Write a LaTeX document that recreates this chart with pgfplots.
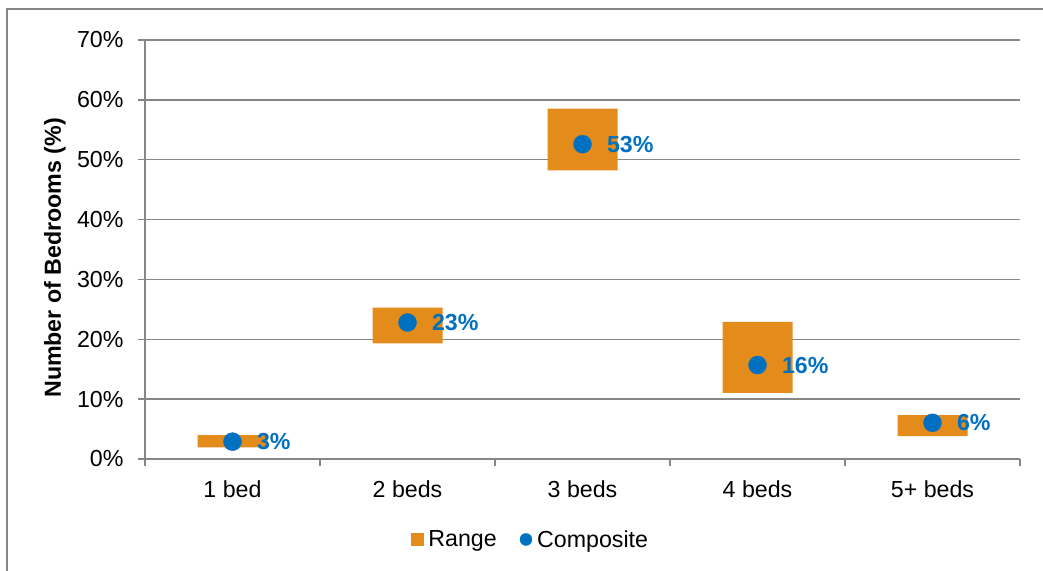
\documentclass[border=0pt]{standalone}
\usepackage{fontspec}
\setmainfont{Liberation Sans}
\usepackage{pgfplots}
\pgfplotsset{compat=1.18}
\definecolor{rangeor}{RGB}{227,139,27}
\definecolor{compblue}{RGB}{0,112,192}
\definecolor{gridgray}{RGB}{134,134,134}
\newcommand{\chartfont}{\fontsize{23.2}{27}\selectfont}
\pgfplotsset{
  common/.style={
    at={(145pt,-459pt)}, anchor=south west,
    scale only axis, width=875pt, height=419pt,
    xmin=-0.5, xmax=4.5, ymin=0, ymax=70,
    clip=false,
  }
}
\begin{document}
\begin{tikzpicture}
\path[use as bounding box] (0pt,0pt) rectangle (1043pt,-570pt);
\draw[gridgray, line width=1.5pt] (7pt,-575pt) -- (7pt,-9pt) -- (1050pt,-9pt);
\begin{axis}[
  common,
  ybar stacked, bar width=70pt,
  axis x line*=bottom, axis y line*=left,
  axis line style={gridgray, line width=1.5pt},
  ytick={0,10,...,70},
  yticklabel={\pgfmathprintnumber{\tick}\%},
  /pgf/number format/assume math mode=true,
  ymajorgrids, grid style={gridgray, line width=1.5pt},
  xtick={-0.5,0.5,...,4.5}, xticklabels={},
  extra x ticks={0,1,2,3,4},
  extra x tick labels={1 bed,2 beds,3 beds,4 beds,5+ beds},
  extra x tick style={major tick length=0pt, grid=none},
  tick align=outside, major tick length=7pt,
  tick style={gridgray, line width=1.5pt},
  tick label style={font=\chartfont, text=black},
  yticklabel style={xshift=-11pt},
  xticklabel style={yshift=-18pt},
  ylabel={Number of Bedrooms (\%)},
  every axis y label/.style={at={(axis description cs:-0.103,0.48)}, rotate=90, anchor=center, font=\chartfont\bfseries},
]
\addplot[fill=none, draw=none] coordinates {(0,1.95) (1,19.3) (2,48.2) (3,11.05) (4,3.83)};
\addplot[fill=rangeor, draw=none] coordinates {(0,2.05) (1,6.0) (2,10.35) (3,11.85) (4,3.5)};
\end{axis}
\begin{axis}[
  common,
  hide axis,
  legend columns=2,
  legend style={draw=none, fill=none, font=\chartfont, inner sep=0pt, outer sep=0pt,
    at={(axis description cs:0.304,-0.192)}, anchor=west,
    /tikz/every even column/.append style={column sep=21pt}},
]
\addlegendimage{legend image code/.code={\fill[rangeor] (0pt,-6pt) rectangle (12pt,6pt); \path (15pt,0pt);}}
\addlegendentry{Range}
\addplot[only marks, mark=*, mark size=9pt, color=compblue,
  point meta=explicit symbolic,
  nodes near coords,
  every node near coord/.append style={anchor=west, xshift=21pt, yshift=0pt, font=\chartfont\bfseries, text=compblue},
  legend image code/.code={\fill[compblue] (6pt,0pt) circle (6pt); \path (15pt,0pt);}]
  coordinates {(0,2.9) [3\%] (1,22.8) [23\%] (2,52.6) [53\%] (3,15.7) [16\%] (4,6.05) [6\%]};
\addlegendentry{Composite}
\end{axis}
\end{tikzpicture}
\end{document}
